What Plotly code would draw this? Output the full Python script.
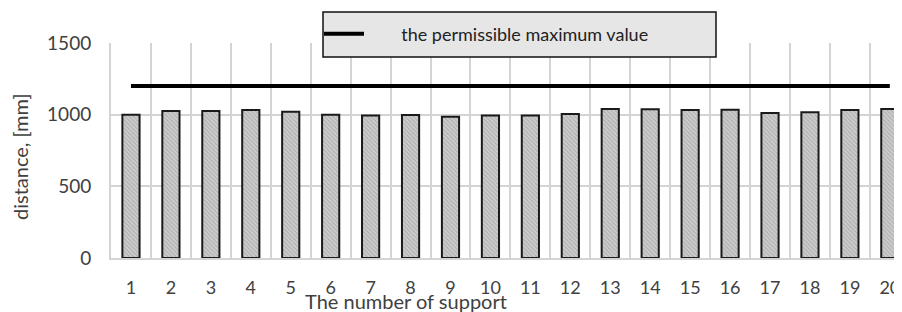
import plotly.graph_objects as go

supports = list(range(1, 21))
distance_mm = [1000, 1025, 1025, 1033, 1020, 1000, 995, 998, 986, 995,
               995, 1005, 1040, 1037, 1033, 1035, 1012, 1016, 1033, 1040]
permissible_max = [1200] * 20
y_ticks = [0, 500, 1000, 1500]
boundaries = [i + 0.5 for i in range(0, 20)]

FONT = "Lato"
TXT = "#404040"
GRID = "#d4d4d4"

# page body has an 8px default margin; compensate so the plot lands where the reference has it
OX, OY = 8, 8
W, H = 902 - OX, 312 - OY
L, R, T, B = 111 - OX, 1, 43 - OY, 54
pw, ph = W - L - R, H - T - B


def px_x(x):  # screen pixel -> paper
    return (x - OX - L) / pw


def px_y(y):
    return (OY + T + ph - y) / ph


fig = go.Figure()
fig.add_trace(go.Bar(
    x=supports, y=distance_mm, width=0.43, showlegend=False,
    marker=dict(color="#c2c2c2",
                line=dict(color="#1a1a1a", width=2),
                pattern=dict(shape="\\", fgcolor="#8a8a8a", bgcolor="#cdcdcd",
                             size=3, solidity=0.35)),
))
fig.add_trace(go.Scatter(
    x=supports, y=permissible_max, mode="lines",
    name="\u00a0" * 7 + "the permissible maximum value",
    line=dict(color="black", width=4),
))

fig.update_layout(
    width=W, height=H,
    margin=dict(l=L, r=R, t=T, b=B, autoexpand=False),
    paper_bgcolor="white", plot_bgcolor="white",
    font=dict(family=FONT, color=TXT, size=18),
    bargap=0.57,
    showlegend=True,
    legend=dict(x=px_x(319), y=px_y(34), xanchor="left", yanchor="middle",
                bgcolor="rgba(0,0,0,0)", borderwidth=0,
                font=dict(family=FONT, size=18, color="#222222"),
                itemwidth=40),
    shapes=[dict(type="rect", xref="paper", yref="paper",
                 x0=px_x(323), x1=px_x(716), y0=px_y(57), y1=px_y(12),
                 fillcolor="#e6e6e6", line=dict(color="#111111", width=1.5),
                 layer="above")],
    annotations=[
        dict(text="distance, [mm]", xref="paper", yref="paper",
             x=px_x(20), y=px_y(157), textangle=-90, showarrow=False,
             xanchor="center", yanchor="middle",
             font=dict(family=FONT, size=20, color=TXT)),
        dict(text="The number of support", xref="paper", yref="paper",
             x=px_x(406), y=px_y(301), showarrow=False,
             xanchor="center", yanchor="middle",
             font=dict(family=FONT, size=20, color=TXT)),
    ],
)
fig.update_xaxes(
    range=[0.5, 0.5 + pw / 39.94], tickmode="array", tickvals=supports,
    ticktext=[str(s) for s in supports], showgrid=False, zeroline=False,
    showline=True, linecolor=GRID, linewidth=2, ticks="",
    ticklabelstandoff=12, tickfont=dict(size=18),
    minor=dict(tickvals=boundaries, showgrid=True, gridcolor=GRID, gridwidth=2, ticks=""),
)
fig.update_yaxes(
    range=[0, 1500], tickvals=y_ticks, showgrid=True, gridcolor=GRID, gridwidth=2,
    zeroline=False, showline=True, linecolor=GRID, linewidth=2, ticks="",
    ticklabelstandoff=14, tickfont=dict(size=19),
)

fig.write_html("out.html")
